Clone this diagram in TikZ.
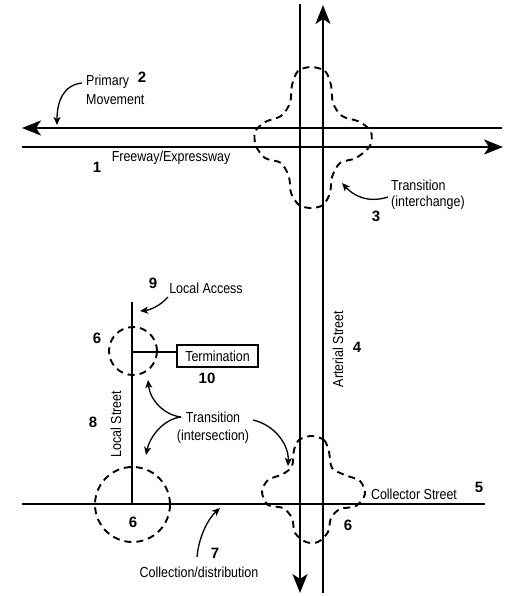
\documentclass[tikz,border=0pt]{standalone}
\usepackage{fontspec}
\setmainfont{Liberation Sans}[FakeStretch=0.86]
\newfontfamily\numfont{Liberation Sans}
\usetikzlibrary{arrows.meta}
\begin{document}
\begin{tikzpicture}[x=1pt,y=-1pt,
  road/.style={line width=2.2pt},
  roadtip/.style={-{Stealth[length=19pt,width=15pt,inset=5pt]}},
  ring/.style={line width=1.9pt,dash pattern=on 7pt off 5pt},
  ann/.style={line width=1.3pt,-{Stealth[length=8pt,width=7pt,inset=2pt]}},
  lbl/.style={inner sep=0pt,font=\fontsize{14.5}{17}\selectfont},
  num/.style={inner sep=0pt,font=\numfont\bfseries\fontsize{15}{17}\selectfont},
  boxst/.style={draw,line width=1.3pt,minimum width=81pt,minimum height=22pt,inner sep=0pt,font=\fontsize{14.5}{17}\selectfont}]
\useasboundingbox (0,0) rectangle (519,596);
% road end points
\coordinate (fwUL) at (22,128); \coordinate (fwUR) at (502,128);
\coordinate (fwLL) at (22,147); \coordinate (fwLR) at (503,147);
\coordinate (arLT) at (300,4);  \coordinate (arLB) at (300,593);
\coordinate (arRT) at (323,5);  \coordinate (arRB) at (323,593);
\coordinate (coL) at (22,504);  \coordinate (coR) at (485,504);
\coordinate (lsT) at (132,302); \coordinate (lsB) at (132,504);
\coordinate (tj) at (132,352);
% roads
\draw[road,roadtip] (fwUR) -- (fwUL);
\draw[road,roadtip] (fwLL) -- (fwLR);
\draw[road,roadtip] (arLT) -- (arLB);
\draw[road,roadtip] (arRB) -- (arRT);
\draw[road] (coL) -- (coR);
\draw[road] (lsT) -- (lsB);
% termination
\node[boxst] (term) at (217.5,356) {Termination};
\draw[road] (tj) -- (tj -| term.west);
% transition rings
\draw[ring] plot[smooth cycle] coordinates {(311,67) (325,71) (331,85) (333,103) (342,116) (360,122) (371,132) (370,146) (356,158) (340,163) (332,177) (330,193) (323,205) (311,208) (299,205) (291,193) (289,177) (281,163) (265,158) (256,146) (255,132) (265,122) (281,116) (290,103) (292,85) (298,71)};
\draw[ring] plot[smooth cycle] coordinates {(311,436) (324,440) (329,452) (332,468) (345,475) (360,481) (365,494) (356,506) (340,509) (331,518) (328,532) (318,542) (306,542) (295,533) (292,518) (283,508) (268,505) (262,492) (268,480) (283,474) (292,466) (294,450) (299,440)};
\draw[ring] (133,351) circle[radius=24];
\draw[ring] (132.5,504.5) circle[radius=37.5];
% labels
\node[lbl,anchor=west] (prim) at (86,82) {Primary};
\node[lbl,anchor=west] (move) at (86,100) {Movement};
\node[num] (n2) at (142,77) {2};
\node[lbl] (fw) at (171,158) {Freeway/Expressway};
\node[num] (n1) at (97,167) {1};
\node[lbl,anchor=west] (tri) at (391,185) {Transition};
\node[lbl,anchor=west] (trii) at (391,203) {(interchange)};
\node[num] (n3) at (376,216) {3};
\node[lbl,rotate=90] (art) at (338,349) {Arterial Street};
\node[num] (n4) at (357,347) {4};
\node[lbl] (col) at (414,494) {Collector Street};
\node[num] (n5) at (479,487) {5};
\node[num] (n6a) at (348,525) {6};
\node[num] (n6b) at (133,522) {6};
\node[num] (n6c) at (97,338) {6};
\node[num] (n7) at (215,553) {7};
\node[lbl] (cd) at (199,572) {Collection/distribution};
\node[num] (n8) at (93,422) {8};
\node[lbl,rotate=90] (ls) at (116,424) {Local Street};
\node[num] (n9) at (153,283) {9};
\node[lbl] (la) at (206,288) {Local Access};
\node[num] (n10) at (207,378) {10};
\node[lbl] (trn) at (213,417) {Transition};
\node[lbl] (trnn) at (213,437) {(intersection)};
% annotation arrows
\coordinate (pmS) at (82,83); \coordinate (pmE) at (57,125);
\draw[ann] (pmS) .. controls (63,85) and (57,102) .. (pmE);
\coordinate (tiS) at (388,197); \coordinate (tiE) at (342,183);
\draw[ann] (tiS) .. controls (366,204) and (352,194) .. (tiE);
\coordinate (laS) at (168,297); \coordinate (laE) at (140,311);
\draw[ann] (laS) .. controls (160,306) and (150,310) .. (laE);
\coordinate (tnS) at (181,417);
\coordinate (tnU) at (148,380); \coordinate (tnD) at (146,455);
\draw[ann] (tnS) .. controls (164,415) and (150,400) .. (tnU);
\draw[ann] (tnS) .. controls (164,419) and (150,436) .. (tnD);
\coordinate (trS) at (253,420); \coordinate (trE) at (288,466);
\draw[ann] (trS) .. controls (275,425) and (289,445) .. (trE);
\coordinate (cdS) at (197,557); \coordinate (cdE) at (220,508);
\draw[ann] (cdS) .. controls (199,535) and (209,518) .. (cdE);
\end{tikzpicture}
\end{document}
